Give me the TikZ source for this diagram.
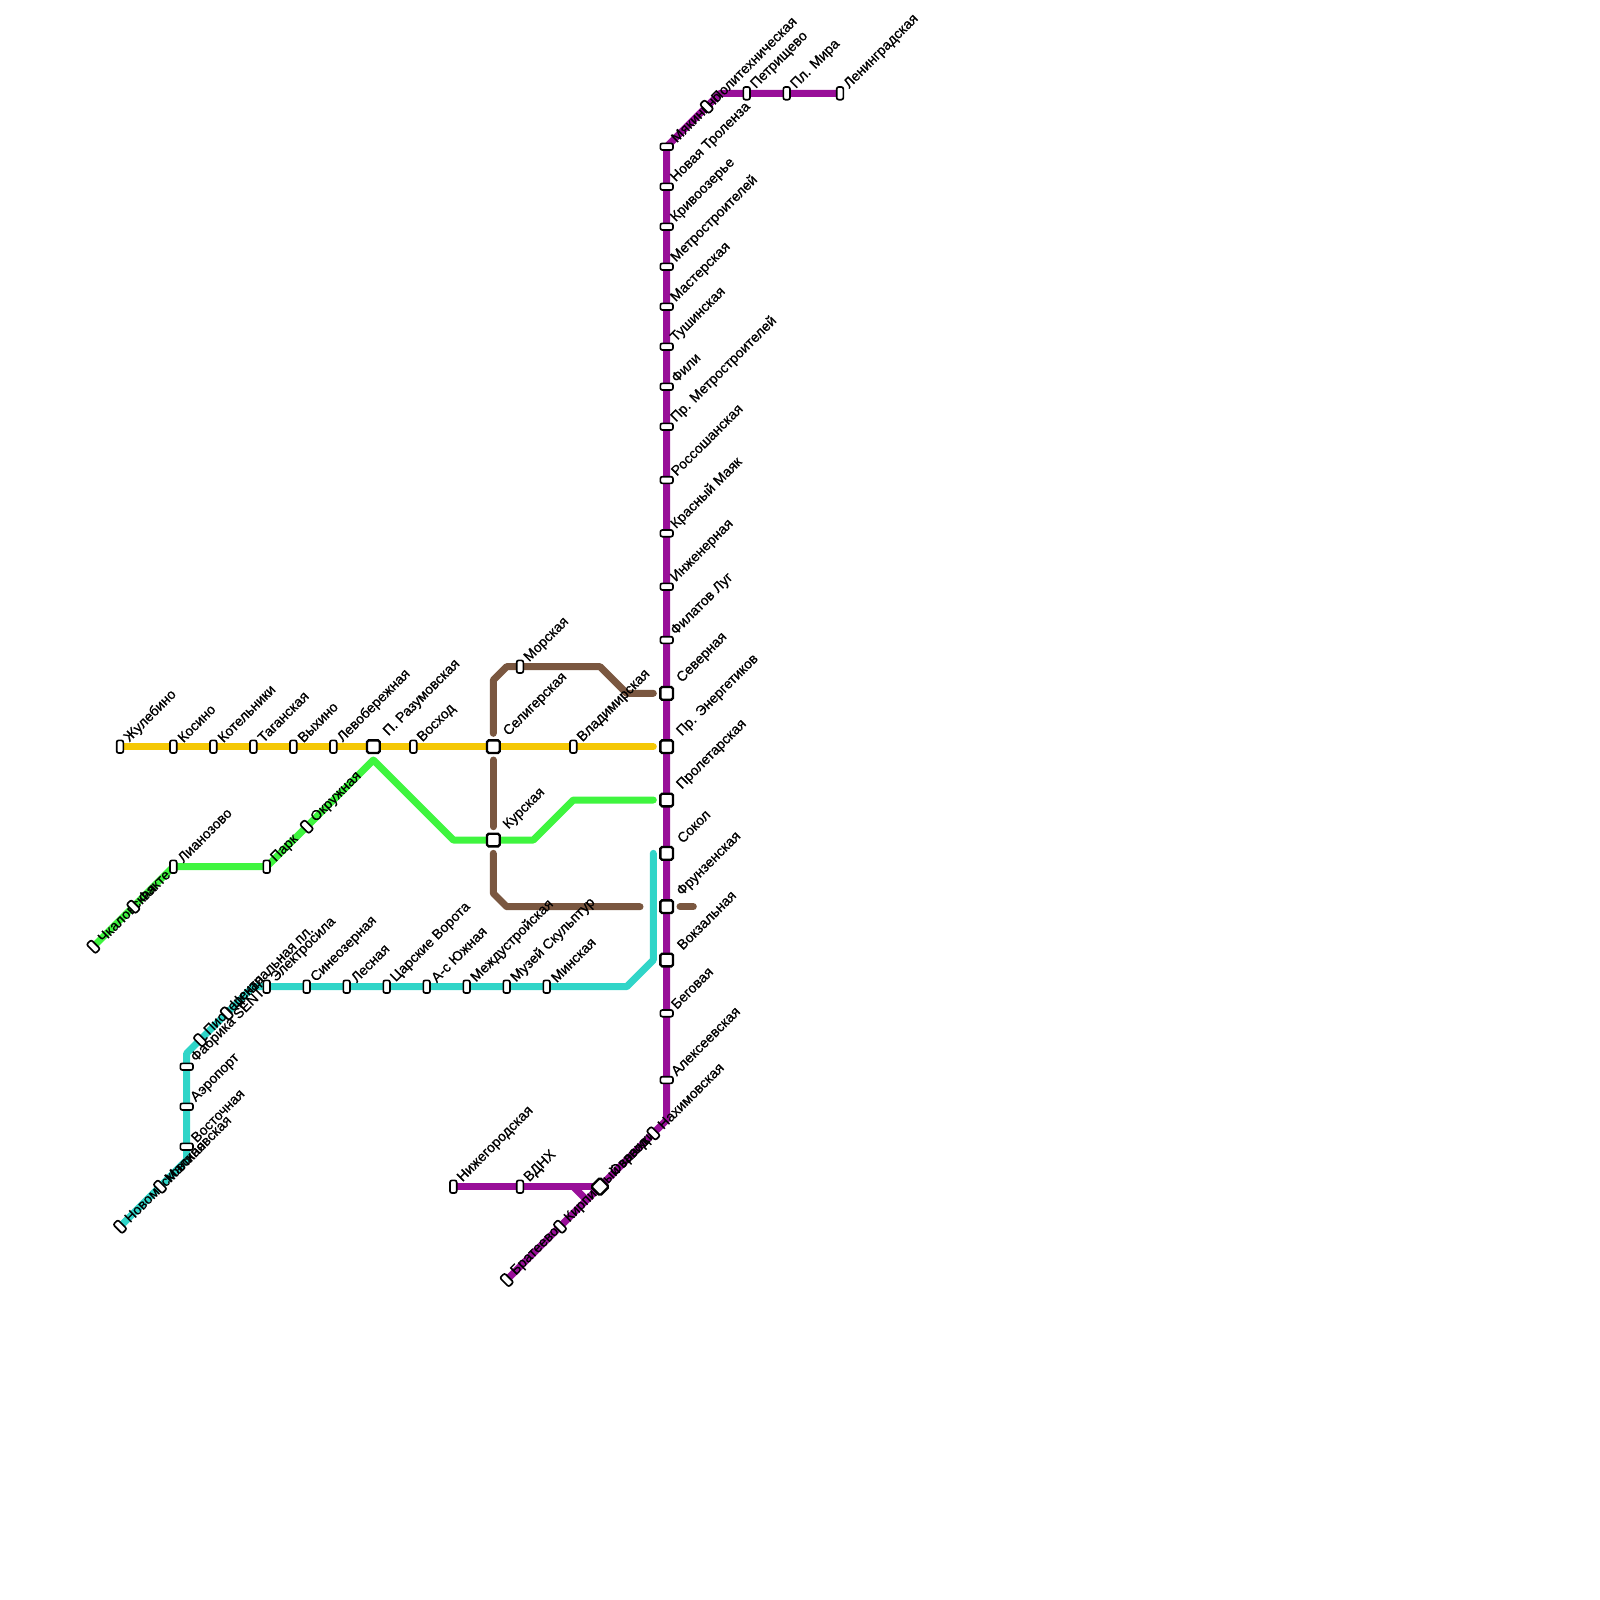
\documentclass[tikz,border=0pt]{standalone}
\usepackage{fontspec}
\setmainfont{Liberation Sans}
\newfontfamily\stnfont[FakeBold=0.8]{Liberation Sans}
\usepackage{xcolor}
\usetikzlibrary{backgrounds}
\definecolor{MetroPurple}{RGB}{153,15,153}
\definecolor{MetroYellow}{RGB}{245,200,5}
\definecolor{MetroGreen}{RGB}{63,245,63}
\definecolor{MetroAqua}{RGB}{48,213,200}
\definecolor{MetroBrown}{RGB}{122,87,64}
\pgfdeclarelayer{front}
\pgfsetlayers{background,main,front}
\tikzset{
  metroline/.style={line width=0.21cm, line cap=round, line join=round},
  stn/.style={draw=black, fill=white, rounded corners=0.06cm, line width=0.05cm, inner sep=0pt, minimum width=0.2cm, minimum height=0.38cm},
  stnflat/.style={stn, rotate=90},
  stndiag/.style={stn, rotate=45},
  hub/.style={draw=black, fill=white, rounded corners=0.05cm, line width=0.07cm, inner sep=0pt, minimum size=0.38cm},
  hubdiag/.style={hub, rotate=45},
  stnlabel/.style={rotate=45, anchor=west, inner sep=0pt, font=\stnfont\fontsize{12}{12}\selectfont},
}
% name, x, y, style, label, label offset
\newcommand{\metrostop}[6]{%
  \node[stnlabel] (#1-label) at (#2+#6,#3-#6) {#5};
  \begin{pgfonlayer}{front}\node[#4] (#1) at (#2,#3) {};\end{pgfonlayer}}
\begin{document}
\begin{tikzpicture}[x=0.4cm, y=-0.4cm]
  \useasboundingbox (0,0) rectangle (120,120);
  % yellow line
  \metrostop{zhulebino}{9}{56}{stn}{Жулебино}{0.5}
  \metrostop{kosino}{13}{56}{stn}{Косино}{0.5}
  \metrostop{kotelniki}{16}{56}{stn}{Котельники}{0.5}
  \metrostop{taganskaya}{19}{56}{stn}{Таганская}{0.5}
  \metrostop{vykhino}{22}{56}{stn}{Выхино}{0.5}
  \metrostop{levoberezh}{25}{56}{stn}{Левобережная}{0.5}
  \metrostop{razumovskaya}{28}{56}{hub}{П. Разумовская}{0.95}
  \metrostop{voskhod}{31}{56}{stn}{Восход}{0.5}
  \metrostop{seligerskaya}{37}{56}{hub}{Селигерская}{0.95}
  \metrostop{vladimirskaya}{43}{56}{stn}{Владимирская}{0.5}
  % green line
  \metrostop{chkalovskaya}{7}{71}{stndiag}{Чкаловская}{0.5}
  \metrostop{fakte}{10}{68}{stndiag}{Факте}{0.5}
  \metrostop{lianozovo}{13}{65}{stn}{Лианозово}{0.5}
  \metrostop{park}{20}{65}{stn}{Парк}{0.5}
  \metrostop{okruzhnaya}{23}{62}{stndiag}{Окружная}{0.5}
  \metrostop{kurskaya}{37}{63}{hub}{Курская}{0.95}
  % brown line
  \metrostop{morskaya}{39}{50}{stn}{Морская}{0.5}
  % aqua line
  \metrostop{novomoskovskaya}{9}{92}{stndiag}{Новомосковская}{0.5}
  \metrostop{malinovskaya}{12}{89}{stndiag}{Малиновская}{0.5}
  \metrostop{vostochnaya}{14}{86}{stnflat}{Восточная}{0.5}
  \metrostop{aeroport}{14}{83}{stnflat}{Аэропорт}{0.5}
  \metrostop{fabrika}{14}{80}{stnflat}{Фабрика SENT}{0.5}
  \metrostop{pionerskaya}{15}{78}{stndiag}{Пионерская}{0.5}
  \metrostop{centralnaya}{17}{76}{stndiag}{Центральная пл.}{0.5}
  \metrostop{elektrosila}{20}{74}{stn}{Электросила}{0.5}
  \metrostop{sineozernaya}{23}{74}{stn}{Синеозерная}{0.5}
  \metrostop{lesnaya}{26}{74}{stn}{Лесная}{0.5}
  \metrostop{vorota}{29}{74}{stn}{Царские Ворота}{0.5}
  \metrostop{yuzhnaya}{32}{74}{stn}{А-с Южная}{0.5}
  \metrostop{mezhdustroy}{35}{74}{stn}{Междустройская}{0.5}
  \metrostop{skulptur}{38}{74}{stn}{Музей Скульптур}{0.5}
  \metrostop{minskaya}{41}{74}{stn}{Минская}{0.5}
  % purple line, lower end
  \metrostop{nizhegorodskaya}{34}{89}{stn}{Нижегородская}{0.5}
  \metrostop{vdnh}{39}{89}{stn}{ВДНХ}{0.5}
  \metrostop{brateevo}{38}{96}{stndiag}{Братеево}{0.5}
  \metrostop{kirpichny}{42}{92}{stndiag}{Кирпичный завод}{0.5}
  \metrostop{ovrazhki}{45}{89}{hubdiag}{Овражки}{0.95}
  \metrostop{nakhimovskaya}{49}{85}{stndiag}{Нахимовская}{0.5}
  % purple line, trunk
  \metrostop{alekseevskaya}{50}{81}{stnflat}{Алексеевская}{0.5}
  \metrostop{begovaya}{50}{76}{stnflat}{Беговая}{0.5}
  \metrostop{vokzalnaya}{50}{72}{hub}{Вокзальная}{0.95}
  \metrostop{frunzenskaya}{50}{68}{hub}{Фрунзенская}{0.95}
  \metrostop{sokol}{50}{64}{hub}{Сокол}{0.95}
  \metrostop{proletarskaya}{50}{60}{hub}{Пролетарская}{0.95}
  \metrostop{energetikov}{50}{56}{hub}{Пр. Энергетиков}{0.95}
  \metrostop{severnaya}{50}{52}{hub}{Северная}{0.95}
  \metrostop{filatov}{50}{48}{stnflat}{Филатов Луг}{0.5}
  \metrostop{inzhenernaya}{50}{44}{stnflat}{Инженерная}{0.5}
  \metrostop{mayak}{50}{40}{stnflat}{Красный Маяк}{0.5}
  \metrostop{rossoshanskaya}{50}{36}{stnflat}{Россошанская}{0.5}
  \metrostop{prmetro}{50}{32}{stnflat}{Пр. Метростроителей}{0.5}
  \metrostop{fili}{50}{29}{stnflat}{Фили}{0.5}
  \metrostop{tushinskaya}{50}{26}{stnflat}{Тушинская}{0.5}
  \metrostop{masterskaya}{50}{23}{stnflat}{Мастерская}{0.5}
  \metrostop{metrostroitelei}{50}{20}{stnflat}{Метростроителей}{0.5}
  \metrostop{krivoozerye}{50}{17}{stnflat}{Кривоозерье}{0.5}
  \metrostop{trolenza}{50}{14}{stnflat}{Новая Троленза}{0.5}
  \metrostop{myakinino}{50}{11}{stnflat}{Мякинино}{0.5}
  \metrostop{politekh}{53}{8}{stndiag}{Политехническая}{0.5}
  \metrostop{petrishchevo}{56}{7}{stn}{Петрищево}{0.5}
  \metrostop{plmira}{59}{7}{stn}{Пл. Мира}{0.5}
  \metrostop{leningradskaya}{63}{7}{stn}{Ленинградская}{0.5}
  % free ends and bends
  \coordinate (yellowend) at (49,56);
  \coordinate (greentop) at (28,57);
  \coordinate (greenlow) at (34,63);
  \coordinate (greenbendA) at (40,63);
  \coordinate (greenbendB) at (43,60);
  \coordinate (greenend) at (49,60);
  \coordinate (brownend) at (49,52);
  \coordinate (brownbendA) at (47,52);
  \coordinate (brownbendB) at (45,50);
  \coordinate (brownbendC) at (38,50);
  \coordinate (brownbendD) at (37,51);
  \coordinate (brownstopA) at (37,55);
  \coordinate (brownstartB) at (37,57);
  \coordinate (brownstopB) at (37,62);
  \coordinate (brownstartC) at (37,64);
  \coordinate (brownbendE) at (37,67);
  \coordinate (brownbendF) at (38,68);
  \coordinate (brownstopC) at (48,68);
  \coordinate (brownstartD) at (51,68);
  \coordinate (brownstopD) at (52,68);
  \coordinate (aquabendA) at (14,87);
  \coordinate (aquabendB) at (14,79);
  \coordinate (aquabendC) at (19,74);
  \coordinate (aquabendD) at (47,74);
  \coordinate (aquabendE) at (49,72);
  \coordinate (aquaend) at (49,64);
  \coordinate (purplespur) at (43,89);
  \coordinate (purplespurend) at (44,90);
  \coordinate (purplebendA) at (50,84);
  \coordinate (purplebendB) at (54,7);
  \begin{scope}[on background layer]
    \draw[metroline, MetroYellow] (zhulebino.center)--(yellowend);
    \draw[metroline, MetroGreen] (chkalovskaya.center)--(lianozovo.center)--(park.center)--(greentop)--(greenlow)--(greenbendA)--(greenbendB)--(greenend);
    \draw[metroline, MetroBrown] (brownend)--(brownbendA)--(brownbendB)--(brownbendC)--(brownbendD)--(brownstopA);
    \draw[metroline, MetroBrown] (brownstartB)--(brownstopB);
    \draw[metroline, MetroBrown] (brownstartC)--(brownbendE)--(brownbendF)--(brownstopC);
    \draw[metroline, MetroBrown] (brownstartD)--(brownstopD);
    \draw[metroline, MetroAqua] (novomoskovskaya.center)--(aquabendA)--(aquabendB)--(aquabendC)--(aquabendD)--(aquabendE)--(aquaend);
    \draw[metroline, MetroPurple] (nizhegorodskaya.center)--(ovrazhki.center);
    \draw[metroline, MetroPurple] (purplespur)--(purplespurend);
    \draw[metroline, MetroPurple] (brateevo.center)--(nakhimovskaya.center)--(purplebendA)--(myakinino.center)--(purplebendB)--(leningradskaya.center);
  \end{scope}
\end{tikzpicture}
\end{document}
